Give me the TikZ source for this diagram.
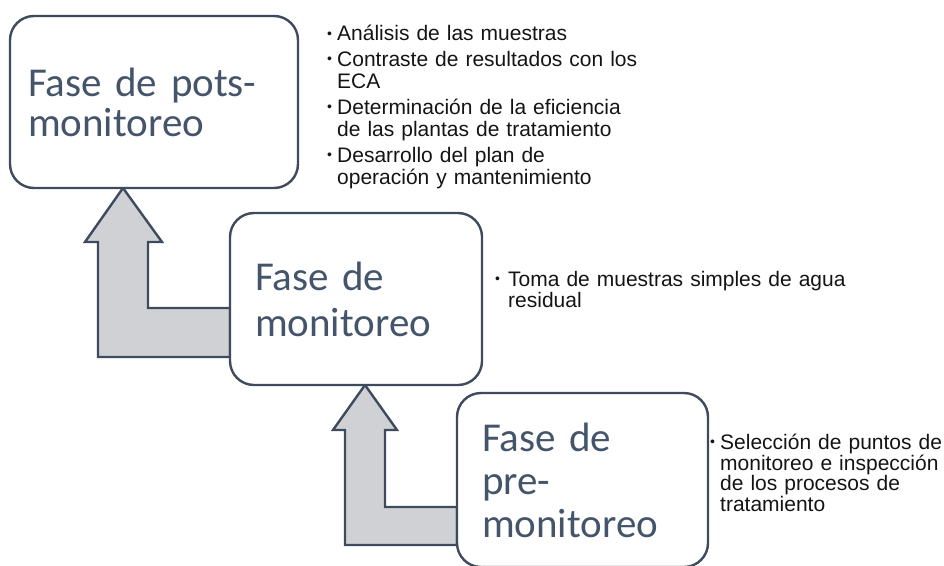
\documentclass[tikz,border=0pt]{standalone}
\usepackage{fontspec}
\setmainfont{Liberation Sans}
\newfontfamily\titlefont{Carlito}
\usetikzlibrary{calc,backgrounds}
\definecolor{faseslate}{HTML}{44546A}
\definecolor{faseedge}{HTML}{3E4B5C}
\definecolor{fasegray}{HTML}{D0D1D5}
\definecolor{faseink}{HTML}{141414}
\newcommand{\fasebullet}[2][10pt]{\par\noindent\hangindent=#1\hangafter=1%
  \makebox[#1][l]{\raisebox{2.5pt}{\fontsize{14}{14}\selectfont•}}#2\par}
\newcommand{\fasetop}{\rule{0pt}{20pt}}

\begin{document}
\begin{tikzpicture}[x=1pt,y=-1pt,
    fasebox/.style={draw=faseedge,line width=2.4pt,rounded corners=24pt,fill=white,
      text=faseslate,align=left,anchor=north west,inner ysep=0pt,outer sep=0pt},
    faselist/.style={anchor=north west,inner sep=0pt,text=faseink,align=left,text width=420pt},
    bentarrow/.style={draw=faseedge,line width=2.4pt,fill=fasegray,line join=miter}]
  \useasboundingbox (0,0) rectangle (944,565);

  % phase boxes
  \node[fasebox,text width=252pt,inner xsep=18pt,minimum height=172pt,
    font=\titlefont\fontsize{41}{40}\selectfont] (pots) at (10,16) {Fase de pots-\\monitoreo};
  \node[fasebox,text width=202pt,inner xsep=25pt,minimum height=172pt,
    font=\titlefont\fontsize{41}{46}\selectfont] (mon) at (230,213) {Fase de\\monitoreo};
  \node[fasebox,text width=201pt,inner xsep=25pt,minimum height=174pt,
    font=\titlefont\fontsize{41}{43}\selectfont] (pre) at (457,393) {Fase de\\pre-\\monitoreo};

  % task lists
  \node[faselist,font=\fontsize{21}{22.5}\selectfont] (potslist) at (327,18)
    {\fasebullet{\fasetop Análisis de las muestras}\setlength{\parskip}{3pt}
     \fasebullet{Contraste de resultados con los\newline ECA}
     \fasebullet{Determinación de la eficiencia\newline de las plantas de tratamiento}
     \fasebullet{Desarrollo del plan de\newline operación y mantenimiento}};
  \node[faselist,font=\fontsize{21}{21}\selectfont] (monlist) at (495,265)
    {\fasebullet[13pt]{\fasetop Toma de muestras simples de agua\newline residual}};
  \node[faselist,font=\fontsize{21}{17.7}\selectfont] (prelist) at (710,428)
    {\fasebullet{\fasetop Selección de puntos de\newline monitoreo e inspección\newline
     de los procesos de\newline tratamiento}};

  % bent arrows between phases
  \begin{scope}[on background layer]
    \coordinate (tipA) at ($(pots.south west)+(113,0)$);
    \draw[bentarrow] (tipA) -- ++(39,54) -- ++(-14,0)
      |- ($(mon.west)+(0,9)$) -- ++(0,49) -- ++(-132,0) -- ++(0,-115) -- ++(-13,0) -- cycle;
    \coordinate (tipB) at ($(mon.south west)+(135,0)$);
    \draw[bentarrow] (tipB) -- ++(32,45) -- ++(-12,0)
      |- ($(pre.west)+(0,27)$) -- ++(0,38) -- ++(-112,0) -- ++(0,-115) -- ++(-12,0) -- cycle;
  \end{scope}
\end{tikzpicture}
\end{document}
